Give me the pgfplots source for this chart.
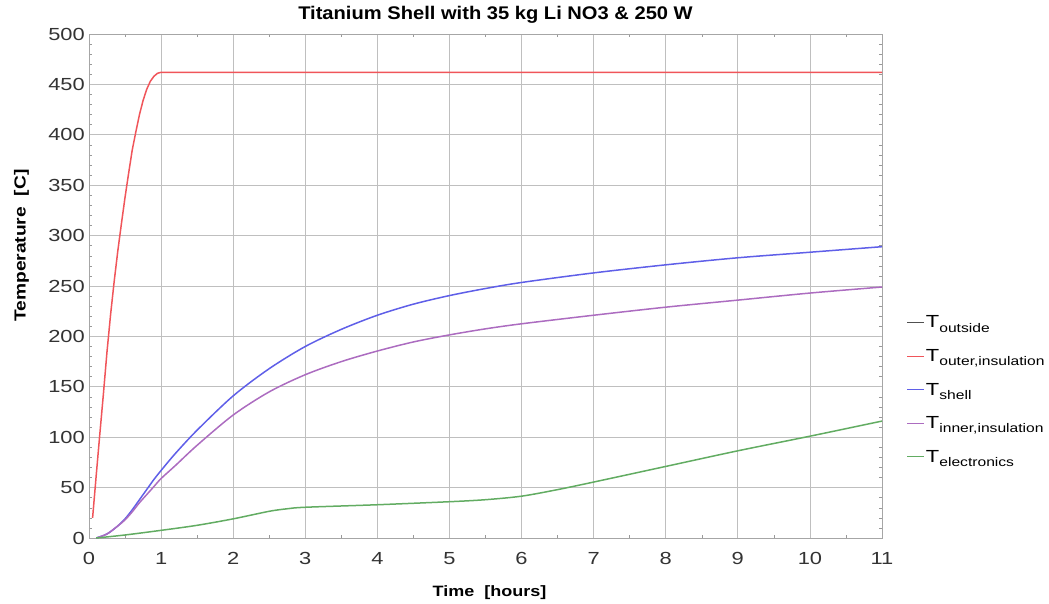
\documentclass[border=0pt]{standalone}
\usepackage{fontspec}
\setmainfont{Liberation Sans}
\newfontfamily\tickfont{Liberation Sans}[FakeStretch=1.25]
\newfontfamily\titlefont{Liberation Sans}[FakeStretch=1.1]
\newfontfamily\labfont{Liberation Sans}[FakeStretch=1.2]
\usepackage{pgfplots}
\pgfplotsset{compat=1.18}
\definecolor{cred}{RGB}{240,85,90}
\definecolor{cblue}{RGB}{95,95,232}
\definecolor{cpurple}{RGB}{172,108,192}
\definecolor{cgreen}{RGB}{98,172,98}
\definecolor{cblack}{RGB}{80,80,80}
\newcommand{\Tsub}[1]{T\raisebox{-0.45ex}{\fontsize{12.5}{13}\selectfont #1}}
\begin{document}
\begin{tikzpicture}
\begin{axis}[
  at={(0pt,0pt)}, anchor=south west,
  scale only axis, width=793pt, height=504pt,
  xmin=0, xmax=11, ymin=0, ymax=500,
  xtick={0,1,...,11}, ytick={0,50,...,500},
  minor x tick num=1, minor y tick num=4,
  grid=major,
  major grid style={draw=black!25, line width=0.7pt},
  axis line style={draw=black!35, line width=0.8pt},
  major tick length=0pt, minor tick length=3pt,
  minor tick style={draw=black!40, line width=0.5pt},
  /pgf/number format/assume math mode=true,
  tick label style={font=\tickfont\fontsize{17.5}{18}\selectfont, text=black!80},
  xticklabel style={anchor=north, inner sep=0pt, yshift=-14pt},
  yticklabel style={anchor=east, inner sep=0pt, xshift=-4pt},
  title={\bfseries Titanium Shell with 35 kg Li NO3 \& 250 W},
  title style={font=\titlefont\fontsize{18.3}{20}\selectfont, at={(axis description cs:0.5,1)}, anchor=base, yshift=8pt, xshift=10pt, inner sep=0pt},
  xlabel={\bfseries Time\ \ [hours]},
  xlabel style={font=\labfont\fontsize{15}{16}\selectfont, at={(axis description cs:0.505,0)}, anchor=base, yshift=-58pt, inner sep=0pt},
  ylabel={\bfseries Temperature\ \ [C]},
  ylabel style={font=\labfont\fontsize{16}{17}\selectfont, at={(axis description cs:-0.085,0.58)}, anchor=center, rotate=0, inner sep=0pt},
  legend style={draw=none, fill=none, at={(axis description cs:1.031,0.443)}, anchor=north west,
    font=\tickfont\fontsize{17.5}{18}\selectfont, row sep=18pt, inner sep=0pt,
    nodes={inner sep=1pt}},
  legend cell align=left,
  legend image code/.code={\draw[#1] (0pt,0pt) -- (17pt,0pt);},
]
\addlegendimage{cblack, line width=1.2pt}
\addlegendentry{\Tsub{outside}}
\addlegendimage{cred, line width=1.2pt}
\addlegendentry{\Tsub{outer,insulation}}
\addlegendimage{cblue, line width=1.2pt}
\addlegendentry{\Tsub{shell}}
\addlegendimage{cpurple, line width=1.2pt}
\addlegendentry{\Tsub{inner,insulation}}
\addlegendimage{cgreen, line width=1.2pt}
\addlegendentry{\Tsub{electronics}}
\addplot[cred, line width=1.5pt, forget plot] coordinates {
(0.05,20)(0.1,62)(0.15,103)(0.2,143)(0.25,185)(0.3,222)(0.35,255)(0.4,285)(0.45,312)(0.5,338)(0.55,362)(0.6,385)(0.65,403)(0.7,420)(0.75,434)(0.8,445)(0.85,453)(0.9,458)(0.95,461)(1.0,462)(11,462)};
\addplot[cblue, line width=1.5pt, smooth, forget plot] coordinates {
(0.1,0)(0.25,4)(0.4,12)(0.5,19)(0.6,28)(0.7,38)(0.8,48)(0.9,58)(1.0,67)(1.2,84)(1.5,107)(2,141)(2.5,168)(3,190)(3.5,207)(4,221)(4.5,232)(5,240.5)(5.5,247.5)(6,253.5)(7,263)(8,271)(9,278)(10,283.5)(11,289)};
\addplot[cpurple, line width=1.5pt, smooth, forget plot] coordinates {
(0.1,0)(0.25,4)(0.4,12)(0.5,18)(0.6,26)(0.7,35)(0.8,43)(0.9,51)(1.0,59)(1.2,72)(1.5,92)(2,122)(2.5,145)(3,162)(3.5,175)(4,185.5)(4.5,194.5)(5,201.5)(5.5,207.5)(6,212.5)(7,221)(8,229)(9,236)(10,243)(11,249)};
\addplot[cgreen, line width=1.5pt, smooth, forget plot] coordinates {
(0.1,0)(0.5,3)(1,7.6)(1.5,12.6)(2,19)(2.5,26.5)(2.75,29)(3,30.5)(4,33)(5,36)(5.5,38)(6,41.5)(6.5,48)(7,55.5)(8,71)(9,86.5)(10,101)(11,116)};
\end{axis}
\pgfresetboundingbox
\path (-89pt,-65pt) rectangle (960pt,538pt);
\end{tikzpicture}
\end{document}
